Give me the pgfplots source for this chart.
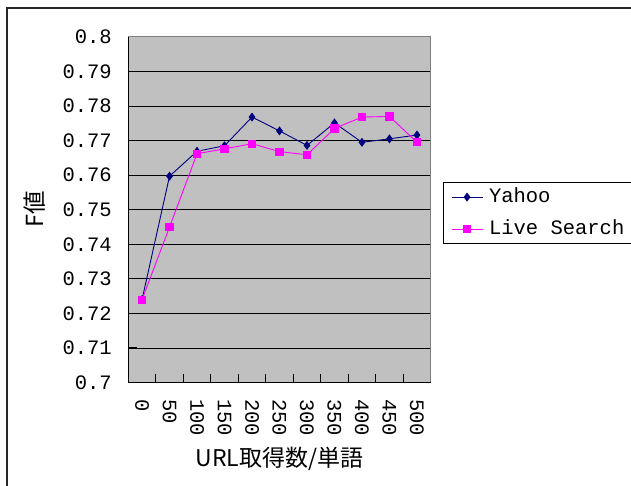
\documentclass[border=0pt]{standalone}
\usepackage{fontspec}
\setmainfont{Liberation Mono}
\newfontfamily\jp{Noto Sans CJK JP}
\usepackage{pgfplots}
\pgfplotsset{compat=1.18}
\definecolor{plotgray}{HTML}{C0C0C0}
\definecolor{bordergray}{HTML}{808080}
\definecolor{navy}{HTML}{000080}
\definecolor{mag}{HTML}{FF00FF}
\begin{document}
\begin{tikzpicture}
\useasboundingbox (0pt,0pt) rectangle (631pt,486pt);
\draw[line width=1.2pt, black!85] (7pt,0pt) -- (7pt,478pt) -- (632pt,478pt);
\begin{axis}[
  at={(128.3pt,103.5pt)}, anchor=south west,
  scale only axis, width=302.4pt, height=345.6pt,
  xmin=-0.5, xmax=10.5, ymin=0.7, ymax=0.8,
  axis background/.style={fill=plotgray},
  axis line style={bordergray, line width=0.8pt},
  xtick={0,1,2,3,4,5,6,7,8,9,10},
  xticklabels={0,50,100,150,200,250,300,350,400,450,500},
  minor xtick={0.5,1.5,2.5,3.5,4.5,5.5,6.5,7.5,8.5,9.5},
  xtick pos=bottom, ytick pos=left,
  tick align=inside,
  major tick length=8.5pt,
  minor tick length=8.5pt,
  major x tick style={draw=none},
  minor x tick style={draw=black, line width=0.9pt},
  ytick={0.7,0.71,...,0.8001},
  yticklabels={0.7,0.71,0.72,0.73,0.74,0.75,0.76,0.77,0.78,0.79,0.8},
  y tick style={draw=black, line width=0.9pt},
  ymajorgrids,
  grid style={black, line width=0.8pt},
  tick label style={font=\fontsize{20.5}{22}\selectfont},
  yticklabel style={xshift=-13pt},
  xticklabel style={yshift=-13pt, rotate=-90, anchor=west},
  ylabel={\jp F値},
  ylabel style={font=\fontsize{23.5}{25}\selectfont, at={(axis description cs:-0.3085,0.5)}, anchor=center},
  xlabel={\jp URL取得数/単語},
  xlabel style={font=\fontsize{23}{25}\selectfont, at={(axis description cs:0.5,0)}, anchor=center, yshift=-76pt},
  legend style={at={(axis description cs:1.0397,0.5796)}, anchor=north west,
    draw=black, line width=0.8pt, fill=white, font=\fontsize{20.5}{22}\selectfont,
    inner xsep=8pt, inner ysep=5.5pt, row sep=14pt,
    nodes={inner sep=0pt, text height=14pt, text depth=4pt},
    /tikz/every odd column/.append style={column sep=6pt}},
  legend cell align=left,
  legend image code/.code={\draw[mark repeat=2,mark phase=2,#1] plot coordinates {(0pt,0pt) (15.5pt,0pt) (31pt,0pt)};},
  clip=false,
]
\addplot[navy, line width=0.9pt, mark=diamond*, mark size=3.8pt, mark options={fill=navy, draw=navy}]
  coordinates {(0,0.7240) (1,0.7597) (2,0.7669) (3,0.7685) (4,0.7768) (5,0.7728) (6,0.7686) (7,0.7751) (8,0.7695) (9,0.7705) (10,0.7716)};
\addlegendentry{\makebox[145pt][l]{Yahoo}}
\addplot[mag, line width=0.9pt, mark=square*, mark size=3.6pt, mark options={fill=mag, draw=mag}]
  coordinates {(0,0.7240) (1,0.7450) (2,0.7662) (3,0.7676) (4,0.7691) (5,0.7668) (6,0.7659) (7,0.7735) (8,0.7768) (9,0.7770) (10,0.7695)};
\addlegendentry{\makebox[145pt][l]{Live Search}}
\draw[black, line width=1.2pt] (rel axis cs:0,0) -- (rel axis cs:0,1);
\draw[black, line width=1.2pt] (rel axis cs:0,0) -- (rel axis cs:1,0);
\end{axis}
\end{tikzpicture}
\end{document}
